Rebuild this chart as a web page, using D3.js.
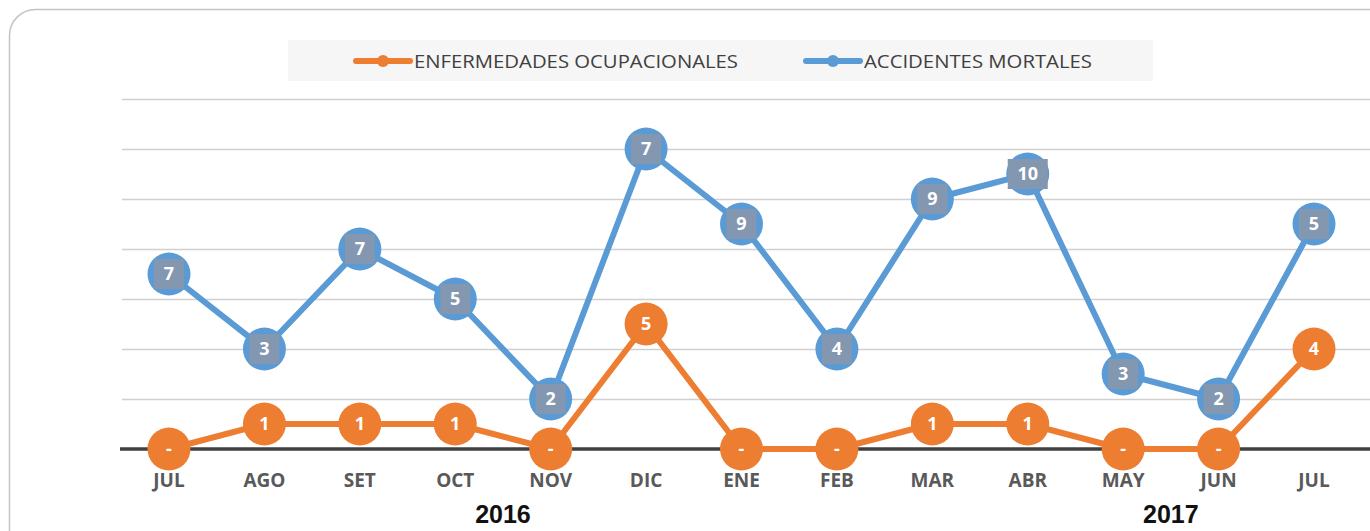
<!DOCTYPE html>
<html>
<head>
<meta charset="utf-8">
<script src="https://cdn.jsdelivr.net/npm/d3@7"></script>
<style>
  html, body { margin: 0; padding: 0; background: #ffffff; }
  svg { display: block; }
</style>
</head>
<body>
<div id="chart"></div>
<script>
// months along the x axis
const months = ['JUL', 'AGO', 'SET', 'OCT', 'NOV', 'DIC', 'ENE', 'FEB', 'MAR', 'ABR', 'MAY', 'JUN', 'JUL'];
const years = [{ label: '2016', at: 3.5 }, { label: '2017', at: 10.5 }];

// orange series
const enfermedades = [0, 1, 1, 1, 0, 5, 0, 0, 1, 1, 0, 0, 4];
const enfermedadesLabels = ['-', '1', '1', '1', '-', '5', '-', '-', '1', '1', '-', '-', '4'];

// blue series: plotted height and the label printed on each point
const accidentes = [7, 4, 8, 6, 2, 12, 9, 4, 10, 11, 3, 2, 9];
const accidentesLabels = ['7', '3', '7', '5', '2', '7', '9', '4', '9', '10', '3', '2', '5'];

const yTicks = [0, 2, 4, 6, 8, 10, 12, 14];

const width = 1370, height = 531;
const orange = '#ed7d31', blue = '#5b9bd5', labelBox = '#8497b0';

const svg = d3.select('#chart')
  .append('svg')
  .attr('width', width)
  .attr('height', height);

// frame
svg.append('rect')
  .attr('x', 9.5).attr('y', 9.5)
  .attr('width', 1400).attr('height', 560)
  .attr('rx', 26)
  .attr('fill', '#ffffff')
  .attr('stroke', '#c4c4c4')
  .attr('stroke-width', 1.5);

const x = d3.scalePoint()
  .domain(d3.range(months.length))
  .range([169, 1314]);
const step = x.step();

const y = d3.scaleLinear()
  .domain([0, 14])
  .range([449, 99]);

// gridlines
svg.append('g')
  .selectAll('line')
  .data(yTicks.filter(d => d > 0))
  .join('line')
  .attr('x1', 122).attr('x2', width)
  .attr('y1', d => y(d) + 0.5).attr('y2', d => y(d) + 0.5)
  .attr('stroke', '#d0d0d0')
  .attr('stroke-width', 1.5);

// base axis
svg.append('line')
  .attr('x1', 120).attr('x2', width)
  .attr('y1', y(0)).attr('y2', y(0))
  .attr('stroke', '#404040')
  .attr('stroke-width', 3.5);

// month labels
svg.append('g')
  .selectAll('text')
  .data(months)
  .join('text')
  .attr('x', (d, i) => x(i))
  .attr('y', 487)
  .attr('text-anchor', 'middle')
  .attr('font-family', 'Open Sans, sans-serif')
  .attr('font-weight', 'bold')
  .attr('font-size', 19)
  .attr('fill', '#595959')
  .text(d => d);

// year labels
svg.append('g')
  .selectAll('text')
  .data(years)
  .join('text')
  .attr('x', d => x(0) + d.at * step)
  .attr('y', 523)
  .attr('text-anchor', 'middle')
  .attr('font-family', 'Liberation Sans, Arial, sans-serif')
  .attr('font-weight', 'bold')
  .attr('font-size', 25)
  .attr('fill', '#111111')
  .text(d => d.label);

const line = d3.line()
  .x((d, i) => x(i))
  .y(d => y(d));

function drawSeries(values, labels, color, boxColor) {
  const g = svg.append('g');
  g.append('path')
    .datum(values)
    .attr('d', line)
    .attr('fill', 'none')
    .attr('stroke', color)
    .attr('stroke-width', 6)
    .attr('stroke-linejoin', 'round');

  const pts = g.selectAll('g.pt')
    .data(values)
    .join('g')
    .attr('class', 'pt')
    .attr('transform', (d, i) => `translate(${x(i)},${y(d)})`);

  pts.append('circle')
    .attr('r', 21.5)
    .attr('fill', color);

  pts.append('rect')
    .attr('x', (d, i) => labels[i].length > 1 ? -20 : -15)
    .attr('y', -15)
    .attr('width', (d, i) => labels[i].length > 1 ? 40 : 30)
    .attr('height', 30)
    .attr('fill', boxColor);

  pts.append('text')
    .attr('text-anchor', 'middle')
    .attr('dy', '0.36em')
    .attr('font-family', 'Open Sans, sans-serif')
    .attr('font-weight', 'bold')
    .attr('font-size', 18)
    .attr('fill', '#ffffff')
    .text((d, i) => labels[i]);
}

drawSeries(enfermedades, enfermedadesLabels, orange, orange);
drawSeries(accidentes, accidentesLabels, blue, labelBox);

// legend
const legend = svg.append('g');
legend.append('rect')
  .attr('x', 288).attr('y', 40)
  .attr('width', 865).attr('height', 41)
  .attr('fill', '#f6f6f6');

const legendItems = [
  { label: 'ENFERMEDADES OCUPACIONALES', color: orange, x: 356, len: 324 },
  { label: 'ACCIDENTES MORTALES', color: blue, x: 806, len: 228 }
];
const li = legend.selectAll('g.item')
  .data(legendItems)
  .join('g')
  .attr('class', 'item')
  .attr('transform', d => `translate(${d.x},61)`);
li.append('line')
  .attr('x1', 0).attr('x2', 54)
  .attr('stroke', d => d.color)
  .attr('stroke-width', 6)
  .attr('stroke-linecap', 'round');
li.append('circle')
  .attr('cx', 27).attr('r', 6)
  .attr('fill', d => d.color);
li.append('text')
  .attr('x', 58)
  .attr('y', 7)
  .attr('font-family', 'Open Sans, sans-serif')
  .attr('font-size', 18)
  .attr('textLength', d => d.len)
  .attr('lengthAdjust', 'spacingAndGlyphs')
  .attr('fill', '#404040')
  .text(d => d.label);
</script>
</body>
</html>
